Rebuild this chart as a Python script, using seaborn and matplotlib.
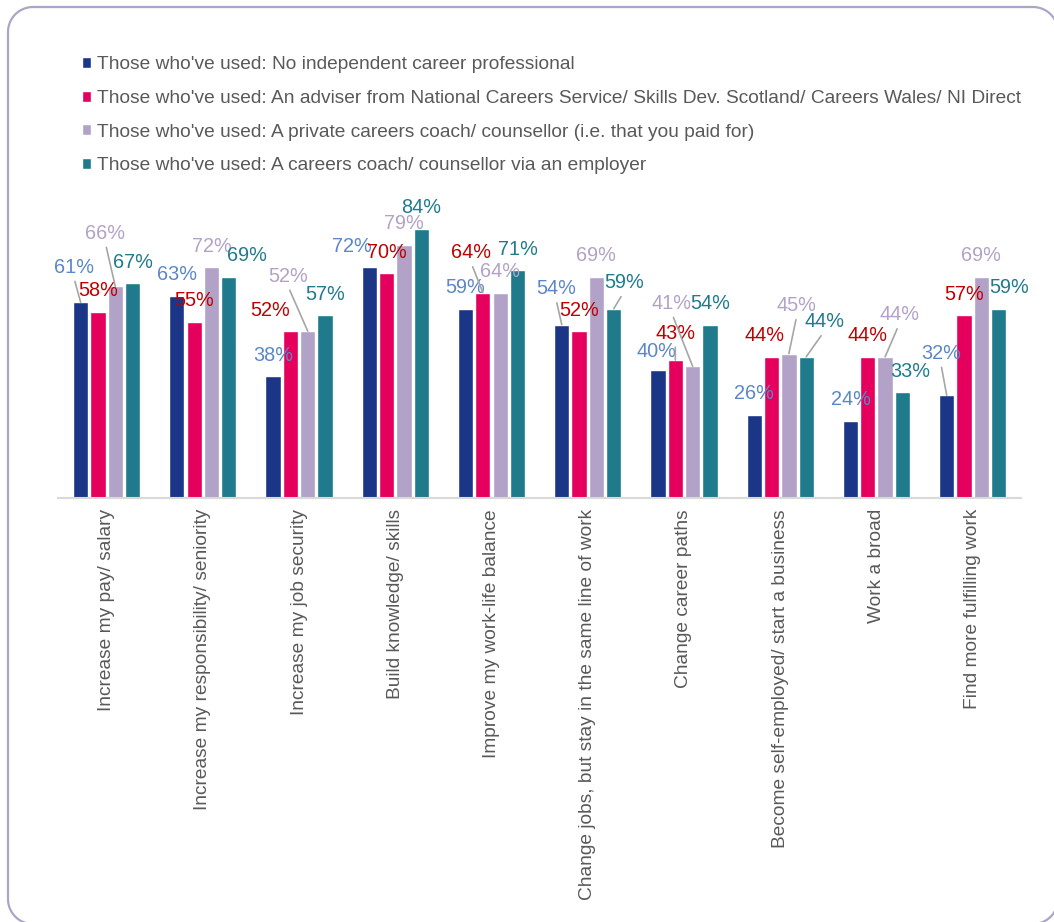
import matplotlib
matplotlib.use('Agg')
import matplotlib.pyplot as plt
import seaborn as sns
import pandas as pd
import numpy as np

categories = ['Increase my pay/ salary', 'Increase my responsibility/ seniority',
              'Increase my job security', 'Build knowledge/ skills',
              'Improve my work-life balance', 'Change jobs, but stay in the same line of work',
              'Change career paths', 'Become self-employed/ start a business',
              'Work a broad', 'Find more fulfilling work']
series = ["Those who've used: No independent career professional",
          "Those who've used: An adviser from National Careers Service/ Skills Dev. Scotland/ Careers Wales/ NI Direct",
          "Those who've used: A private careers coach/ counsellor (i.e. that you paid for)",
          "Those who've used: A careers coach/ counsellor via an employer"]
no_professional = [61, 63, 38, 72, 59, 54, 40, 26, 24, 32]
adviser = [58, 55, 52, 70, 64, 52, 43, 44, 44, 57]
private_coach = [66, 72, 52, 79, 64, 69, 41, 45, 44, 69]
employer_coach = [67, 69, 57, 84, 71, 59, 54, 44, 33, 59]

bar_colors = ['#1B3687', '#E6005E', '#B3A2C8', '#1F7B8B']
label_colors = ['#5B87C8', '#C00000', '#B3A2C8', '#1F7B8B']

# label nudges in pixels (dx, dy, leader line) relative to default spot above bar
nudges = {
    (0, 0): (-7, 14, True), (2, 0): (-10, 32, True),
    (3, 1): (18, 0, False),
    (1, 2): (-20, 0, False), (2, 2): (-20, 34, True),
    (0, 3): (-17, 0, False),
    (1, 4): (-12, 19, True),
    (0, 5): (-6, 15, True), (3, 5): (10, 5, True),
    (0, 6): (-2, -3, False), (1, 6): (0, 6, True), (2, 6): (-21, 42, True),
    (1, 7): (-7, 0, False), (2, 7): (8, 27, True), (3, 7): (18, 14, True),
    (2, 8): (14, 21, True), (3, 8): (8, 0, False),
    (0, 9): (-6, 21, True), (3, 9): (10, 0, False),
}

values = [no_professional, adviser, private_coach, employer_coach]
df = pd.DataFrame({
    'category': categories * 4,
    'series': [s for s in series for _ in categories],
    'value': [v for vals in values for v in vals],
})


def rounded_frame(x0, y0, x1, y1, r):
    # polyline outline (no bezier curves, so clipping at the canvas edge stays clean)
    pts = []
    corners = [(x0 + r, y0 + r, 180, 270), (x1 - r, y0 + r, 270, 360),
               (x1 - r, y1 - r, 0, 90), (x0 + r, y1 - r, 90, 180)]
    for cx, cy, a0, a1 in corners:
        t = np.radians(np.linspace(a0, a1, 20))
        pts += list(zip(cx + r * np.cos(t), cy + r * np.sin(t)))
    pts.append(pts[0])
    return np.array(pts)


sns.set_style('white')
plt.rcParams['font.family'] = ['Liberation Sans', 'DejaVu Sans']

fig = plt.figure(figsize=(10.54, 9.22), dpi=100)

bg = fig.add_axes([0, 0, 1, 1], zorder=-1)
bg.set_xlim(0, 1054)
bg.set_ylim(922, 0)
bg.axis('off')
outline = rounded_frame(8, 7, 1058, 924, 25)
bg.plot(outline[:, 0], outline[:, 1], color='#ABA6C8', lw=1.6, solid_joinstyle='round')

ax = fig.add_axes([0.0555, 0.46, 0.913, 0.313])

sns.barplot(data=df, x='category', y='value', hue='series', hue_order=series,
            palette=bar_colors, width=0.72, gap=0.12, saturation=1,
            order=categories, ax=ax)

ax.set_ylim(0, 90)
ax.set_xlim(-0.5, 9.5)
ax.set_xlabel('')
ax.set_ylabel('')
ax.set_yticks([])
ax.patch.set_alpha(0)
for side in ['top', 'right', 'left']:
    ax.spines[side].set_visible(False)
ax.spines['bottom'].set_color('#D9D9D9')
ax.spines['bottom'].set_linewidth(1.5)
ax.tick_params(axis='x', length=0, pad=8)
ax.set_xticks(range(len(categories)))
ax.set_xticklabels(categories, rotation=90, fontsize=13.8, color='#595959')

for si, cont in enumerate(ax.containers):
    for ci, bar in enumerate(cont.patches):
        x = bar.get_x() + bar.get_width() / 2
        h = bar.get_height()
        dx, dy, leader = nudges.get((si, ci), (0, 0, False))
        arrow = None
        if leader:
            arrow = dict(arrowstyle='-', color='#A6A6A6', lw=1.2,
                         shrinkA=1, shrinkB=0, relpos=(0.5, 0.0))
        ax.annotate(f'{h:.0f}%', xy=(x, h), xytext=(dx, 21 + dy),
                    textcoords='offset pixels', ha='center', va='center',
                    fontsize=14.3, color=label_colors[si], arrowprops=arrow,
                    annotation_clip=False)

leg = ax.legend(loc='upper left', bbox_to_anchor=(0.0775, 0.939),
                bbox_transform=fig.transFigure, frameon=False, fontsize=13.8,
                handlelength=0.5, handleheight=0.5, handletextpad=0.3,
                labelspacing=0.87, borderaxespad=0, borderpad=0)
for t in leg.get_texts():
    t.set_color('#595959')

fig.savefig('out.png', dpi=100)
